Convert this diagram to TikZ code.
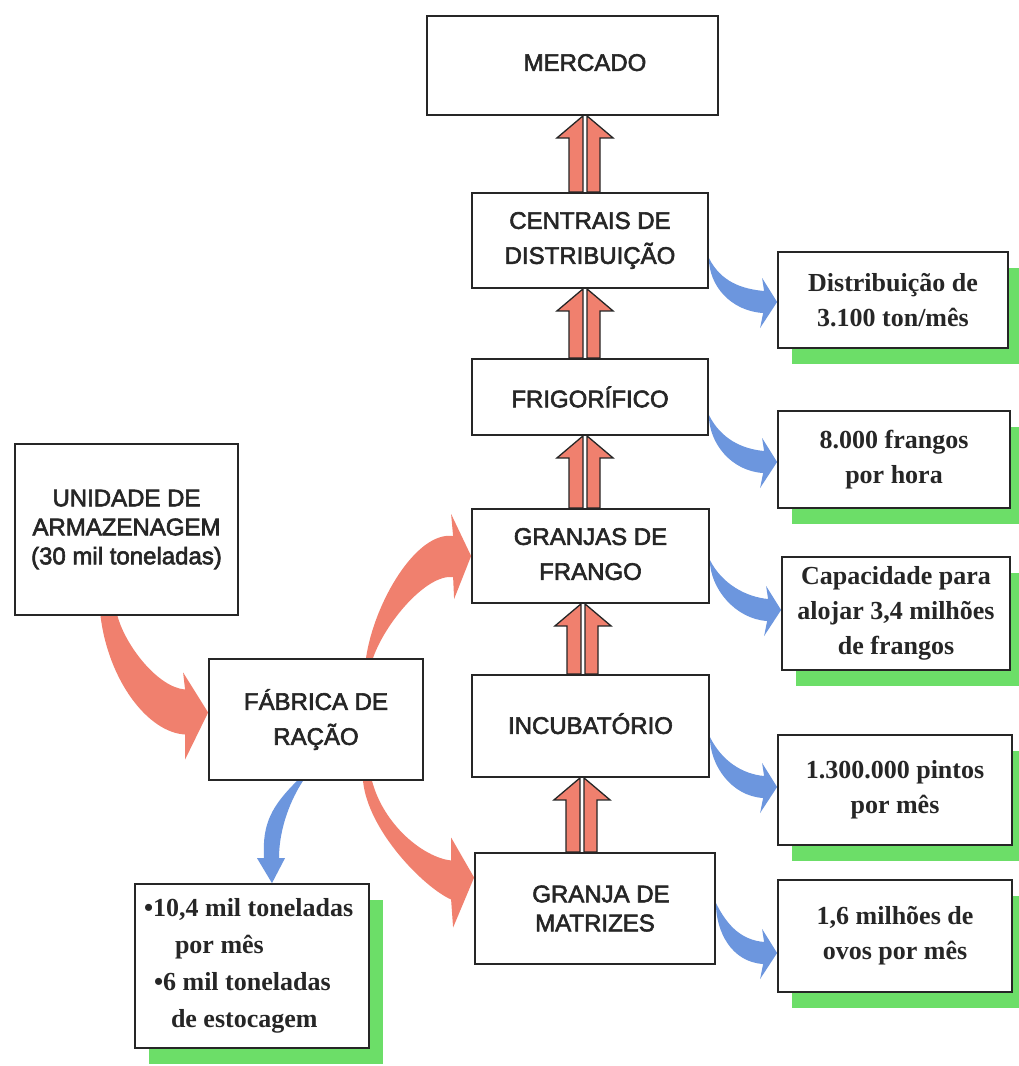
\documentclass[tikz,border=0pt]{standalone}
\usepackage{fontspec}
\setmainfont{Liberation Serif}
\newfontfamily\boxsans[FakeBold=2.5]{Liberation Sans}
\usetikzlibrary{calc,shadows,backgrounds}
\definecolor{arrred}{RGB}{240,128,110}
\definecolor{arrblue}{RGB}{108,150,222}
\definecolor{shgreen}{RGB}{108,222,104}
\definecolor{ink}{RGB}{38,38,38}
\tikzset{
  box/.style={draw=ink, line width=1.8bp, fill=white, inner sep=0pt, align=center, text=ink},
  lbl/.style={font=\boxsans\fontsize{24bp}{35bp}\selectfont},
  info/.style={box, font=\bfseries\fontsize{26bp}{35bp}\selectfont,
    drop shadow={shadow xshift=14bp, shadow yshift=-16bp, fill=shgreen, opacity=1, draw=none}},
  redarr/.style={fill=arrred, draw=none},
  bluearr/.style={fill=arrblue, draw=none},
  dblhalf/.style={fill=arrred, draw=ink, line width=1.3bp, line join=miter},
}
\newcommand\dblarr[3]{%
  \coordinate (dbx) at (#1,0);
  \coordinate (dbB) at (dbx |- #2.north);
  \coordinate (dbT) at (dbx |- #3.south);
  \filldraw[dblhalf] ($(dbB)+(-2,0)$) -- ($(dbB)+(-16,0)$) -- ($(dbT)+(-16,22)$) -- ($(dbT)+(-28,22)$) -- ($(dbT)+(-2,0)$) -- cycle;
  \filldraw[dblhalf] ($(dbB)+(2,0)$) -- ($(dbB)+(15,0)$) -- ($(dbT)+(15,22)$) -- ($(dbT)+(28,22)$) -- ($(dbT)+(2,0)$) -- cycle;
}
\newcommand\sidearr[4]{%
  \coordinate (saT) at ($(#1.east)+(0,#3)$);
  \coordinate (saP) at ($(#2.west)+(0,#4)$);
  \fill[bluearr] (saT) .. controls ($(saT)+(12,24)$) and ($(saP)+(-35,-13)$) .. ($(saP)+(-13,-11)$)
    -- ($(saP)+(-15,-24)$) -- (saP) -- ($(saP)+(-17,26)$) -- ($(saP)+(-14,11)$)
    .. controls ($(saP)+(-46,9)$) and ($(saT)+(0,28)$) .. (saT) -- cycle;
}
\begin{document}
\begin{tikzpicture}[x=1bp,y=-1bp]
\useasboundingbox (0,0) rectangle (1019,1066);

% main chain
\node[box,lbl,minimum width=291bp,minimum height=99bp] (mer) at (572.5,65.5) {\hspace*{25bp}\raisebox{6bp}{MERCADO}};
\node[box,lbl,minimum width=236bp,minimum height=95bp] (cd) at (590,240.5) {CENTRAIS DE\\DISTRIBUIÇÃO};
\node[box,lbl,minimum width=236bp,minimum height=76bp] (fr) at (590,397) {FRIGORÍFICO};
\node[box,lbl,minimum width=237bp,minimum height=94bp] (gf) at (590.5,556) {\raisebox{4bp}{GRANJAS DE}\\\raisebox{4bp}{FRANGO}};
\node[box,lbl,minimum width=237bp,minimum height=102bp] (inc) at (590.5,726) {\raisebox{5bp}{INCUBATÓRIO}};
\node[box,lbl,font=\boxsans\fontsize{24bp}{29bp}\selectfont,minimum width=240bp,minimum height=111bp] (mat) at (595,908.5) {\hspace*{12bp}GRANJA DE\\MATRIZES};
\node[box,lbl,font=\boxsans\fontsize{24bp}{29bp}\selectfont,minimum width=223bp,minimum height=171bp] (un) at (126.5,529.5) {UNIDADE DE\\ARMAZENAGEM\\(30 mil toneladas)};
\node[box,lbl,minimum width=214bp,minimum height=121bp] (fab) at (316,719.5) {FÁBRICA DE\\RAÇÃO};

% info boxes
\node[info,minimum width=230bp,minimum height=96bp] (i1) at (893,300) {Distribuição de\\3.100 ton/mês};
\node[info,minimum width=232bp,minimum height=97bp] (i2) at (894,459.5) {8.000 frangos\\por hora};
\node[info,minimum width=228bp,minimum height=113bp] (i3) at (896,613.5) {Capacidade para\\alojar 3,4 milhões\\de frangos};
\node[info,minimum width=234bp,minimum height=110bp] (i4) at (895,790) {1.300.000 pintos\\por mês};
\node[info,minimum width=234bp,minimum height=112bp] (i5) at (895,936) {1,6 milhões de\\ovos por mês};
\node[info,font=\bfseries\fontsize{26bp}{37bp}\selectfont,align=flush left,text width=216bp,minimum width=234bp,minimum height=164bp] (i6) at (252,966)
  {•10,4 mil toneladas\\\hspace*{31bp}por mês\\\hspace*{10bp}•6 mil toneladas\\\hspace*{27bp}de estocagem};

\begin{scope}[on background layer]
\fill[white] (0,0) rectangle (1019,1066);
% double arrows
\dblarr{585}{cd}{mer}
\dblarr{585}{fr}{cd}
\dblarr{585}{gf}{fr}
\dblarr{583}{inc}{gf}
\dblarr{582}{mat}{inc}

% blue side arrows
\sidearr{cd}{i1}{17.5}{2}
\sidearr{fr}{i2}{18}{2.5}
\sidearr{gf}{i3}{4}{-3.5}
\sidearr{inc}{i4}{11}{-3}
\sidearr{mat}{i5}{-5.5}{17}

% red: storage -> feed mill
\coordinate (aL) at ($(un.south)+(-26,0)$);
\coordinate (aR) at ($(un.south)+(-9,0)$);
\coordinate (aP) at ($(fab.west)+(0,-7)$);
\fill[redarr] (aL) .. controls ($(aL)+(8,65)$) and ($(aP)+(-60,20)$) .. ($(aP)+(-23,22)$)
  -- ($(aP)+(-23,47)$) -- (aP) -- ($(aP)+(-25,-40)$) -- ($(aP)+(-23,-23)$)
  .. controls ($(aP)+(-50,-25)$) and ($(aR)+(8,30)$) .. (aR) -- cycle;

% red: feed mill -> broiler farms
\coordinate (bL) at ($(fab.north)+(50,0)$);
\coordinate (bR) at ($(fab.north)+(57,0)$);
\coordinate (bP) at (gf.west);
\fill[redarr] (bL) .. controls ($(bL)+(8,-55)$) and ($(bP)+(-55,-25)$) .. ($(bP)+(-18,-20)$)
  -- ($(bP)+(-20,-42)$) -- (bP) -- ($(bP)+(-17,43)$) -- ($(bP)+(-18,21)$)
  .. controls ($(bP)+(-45,18)$) and ($(bR)+(12,-35)$) .. (bR) -- cycle;

% red: feed mill -> breeder farm
\coordinate (cL) at ($(fab.south)+(47,0)$);
\coordinate (cR) at ($(fab.south)+(56,0)$);
\coordinate (cP) at ($(mat.west)+(0,-31)$);
\fill[redarr] (cR) .. controls ($(cR)+(12,45)$) and ($(cP)+(-50,-20)$) .. ($(cP)+(-23,-17)$)
  -- ($(cP)+(-23,-40)$) -- (cP) -- ($(cP)+(-21,50)$) -- ($(cP)+(-23,22)$)
  .. controls ($(cP)+(-50,10)$) and ($(cL)+(5,50)$) .. (cL) -- cycle;

% blue: feed mill -> production info
\coordinate (dL) at ($(fab.south)+(-19,0)$);
\coordinate (dR) at ($(fab.south)+(-13,0)$);
\coordinate (dP) at ($(i6.north)+(20,0)$);
\fill[bluearr] (dL) .. controls ($(dL)+(-25,25)$) and ($(dP)+(-10,-60)$) .. ($(dP)+(-8,-25)$)
  -- ($(dP)+(-15,-25)$) -- (dP) -- ($(dP)+(13,-25)$) -- ($(dP)+(7,-25)$)
  .. controls ($(dP)+(7,-55)$) and ($(dR)+(-12,18)$) .. (dR) -- cycle;
\end{scope}
\end{tikzpicture}
\end{document}
